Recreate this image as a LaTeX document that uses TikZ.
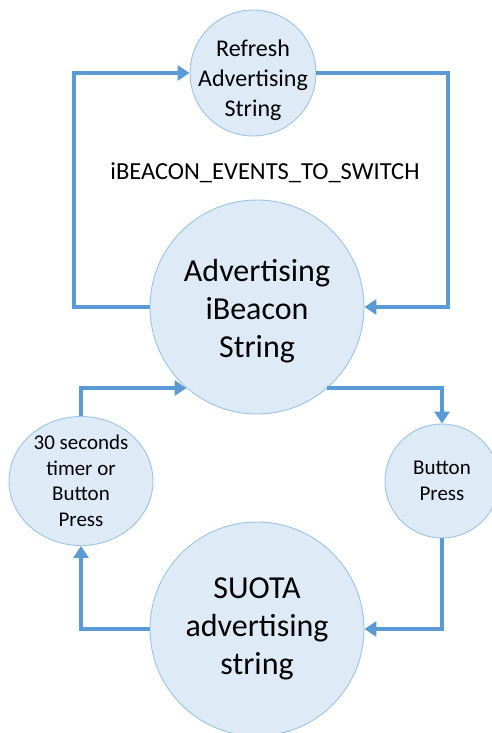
\documentclass[tikz,border=0pt]{standalone}
\usepackage{fontspec}
\setmainfont{Carlito}
\usetikzlibrary{arrows.meta,shapes.geometric}
\definecolor{statefill}{HTML}{DEEBF7}
\definecolor{stateedge}{HTML}{9DC3E6}
\definecolor{arrowblue}{HTML}{5B9BD5}
\tikzset{
  statenode/.style={circle,fill=statefill,draw=stateedge,line width=0.9pt,inner sep=0pt,align=center,text=black},
  ovalnode/.style={ellipse,fill=statefill,draw=stateedge,line width=0.9pt,inner sep=0pt,align=center,text=black},
  flow/.style={draw=arrowblue,line width=4pt,-{Triangle[length=12pt,width=15pt]}},
  bigfont/.style={font=\fontsize{32}{38}\selectfont},
  midfont/.style={font=\fontsize{24}{30}\selectfont},
  smallfont/.style={font=\fontsize{21}{25.5}\selectfont},
}
\begin{document}
\begin{tikzpicture}[x=1pt,y=-1pt]
\useasboundingbox (0,0) rectangle (492,733);
\fill[white] (0,0) rectangle (492,733);
% nodes
\node[statenode,minimum size=126pt] (refresh) at (253,73) {};
\node[midfont,align=center] (refreshtxt) at (253,80) {Refresh\\Advertising\\String};
\node[font=\fontsize{24.5}{29}\selectfont] (label) at (265,173) {iBEACON\_EVENTS\_TO\_SWITCH};
\node[statenode,minimum size=214pt,bigfont] (main) at (257,307) {};
\node[bigfont,align=center] (maintxt) at (257,311) {Advertising\\iBeacon\\String};
\node[ovalnode,minimum width=144pt,minimum height=127pt,smallfont] (thirty) at (81,481) {30 seconds\\timer or\\Button\\Press};
\node[statenode,minimum size=114pt,smallfont] (button) at (442,481) {Button\\Press};
\node[statenode,minimum size=214pt,bigfont] (suota) at (257,629) {SUOTA\\advertising\\string};
% connectors
\draw[flow] (main.west) -- ++(-76,0) coordinate (tlc) |- (refresh.west);
\draw[flow] (refresh.east) -- ++(132,0) coordinate (trc) |- (main.east);
\draw[flow] (thirty.north) |- (main.229);
\draw[flow] (main.-49) -| (button.north);
\draw[flow] (button.south) |- (suota.east);
\draw[flow] (suota.west) -| (thirty.south);
\end{tikzpicture}
\end{document}
